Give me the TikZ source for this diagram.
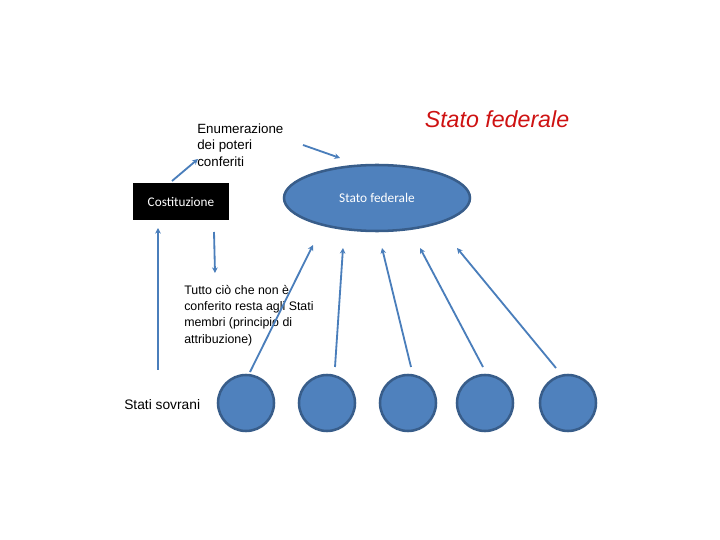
\documentclass[tikz,border=0pt]{standalone}
\usepackage{fontspec}
\setmainfont{Liberation Sans}
\newfontfamily\calfont{Carlito}
\usetikzlibrary{arrows.meta,shapes.geometric}
\definecolor{statofill}{HTML}{4F81BD}
\definecolor{statoedge}{HTML}{385D8A}
\definecolor{freccia}{HTML}{4A7EBB}
\definecolor{titolo}{RGB}{206,18,18}
\tikzset{
  membro/.style={circle,fill=statofill,draw=statoedge,line width=1.8pt,minimum size=1.4cm,inner sep=0pt},
  nota/.style={anchor=west,align=left,inner sep=0pt,font=\fontsize{9.5}{11.6}\selectfont},
  freccia/.style={draw=freccia,line width=1.3pt,-{Stealth[length=4pt,width=4pt]}}
}
\begin{document}
\begin{tikzpicture}
\useasboundingbox (0,0) rectangle (18,13.5);
\node[text=titolo,font=\fontsize{16.5}{19}\selectfont\itshape] (titolo) at (12.425,10.525) {Stato federale}; % title
\node[fill=black,text=white,minimum width=2.4cm,minimum height=0.925cm,inner sep=0pt,font=\calfont\fontsize{9.4}{11}\selectfont] (cost) at (4.525,8.4625) {Costituzione}; % box
\node[ellipse,fill=statofill,draw=statoedge,line width=1.8pt,minimum width=4.65cm,minimum height=1.65cm,inner sep=0pt,text=white,font=\calfont\fontsize{9.5}{11}\selectfont] (fed) at (9.425,8.55) {Stato federale}; % ellipse
\node[nota] (enum) at (4.925,9.875) {Enumerazione\\dei poteri\\conferiti};
\node[nota,font=\fontsize{8.8}{11.6}\selectfont] (tutto) at (4.6,5.6125) {Tutto ciò che non è\\conferito resta agli Stati\\membri (principio di\\attribuzione)};
\node[nota,font=\fontsize{9.8}{11.6}\selectfont] (sovr) at (3.1,3.375) {Stati sovrani};
\node[membro] (m1) at (6.15,3.425) {}; % State.1
\node[membro] (m2) at (8.175,3.425) {}; % State.2
\node[membro] (m3) at (10.2,3.425) {}; % State.3
\node[membro] (m4) at (12.125,3.425) {}; % State.4
\node[membro] (m5) at (14.2,3.425) {}; % State.5
\coordinate (e0) at (4.3,8.975);
\coordinate (e1) at (4.95,9.525);
\coordinate (f0) at (7.575,9.875);
\coordinate (f1) at (8.5,9.55);
\coordinate (g0) at (5.35,7.7);
\coordinate (g1) at (5.375,6.675);
\coordinate (s0) at (3.95,4.25);
\coordinate (s1) at (3.95,7.8);
\coordinate (a0) at (6.25,4.2);   \coordinate (a1) at (7.825,7.375);
\coordinate (b0) at (8.375,4.325); \coordinate (b1) at (8.575,7.3);
\coordinate (c0) at (10.275,4.325); \coordinate (c1) at (9.55,7.3);
\coordinate (d0) at (12.075,4.325); \coordinate (d1) at (10.5,7.3);
\coordinate (h0) at (13.9,4.3);   \coordinate (h1) at (11.425,7.3);
\draw[freccia] (e0) -- (e1);
\draw[freccia] (f0) -- (f1);
\draw[freccia] (g0) -- (g1);
\draw[freccia] (s0) -- (s1);
\draw[freccia] (a0) -- (a1);
\draw[freccia] (b0) -- (b1);
\draw[freccia] (c0) -- (c1);
\draw[freccia] (d0) -- (d1);
\draw[freccia] (h0) -- (h1);
\end{tikzpicture}
\end{document}
